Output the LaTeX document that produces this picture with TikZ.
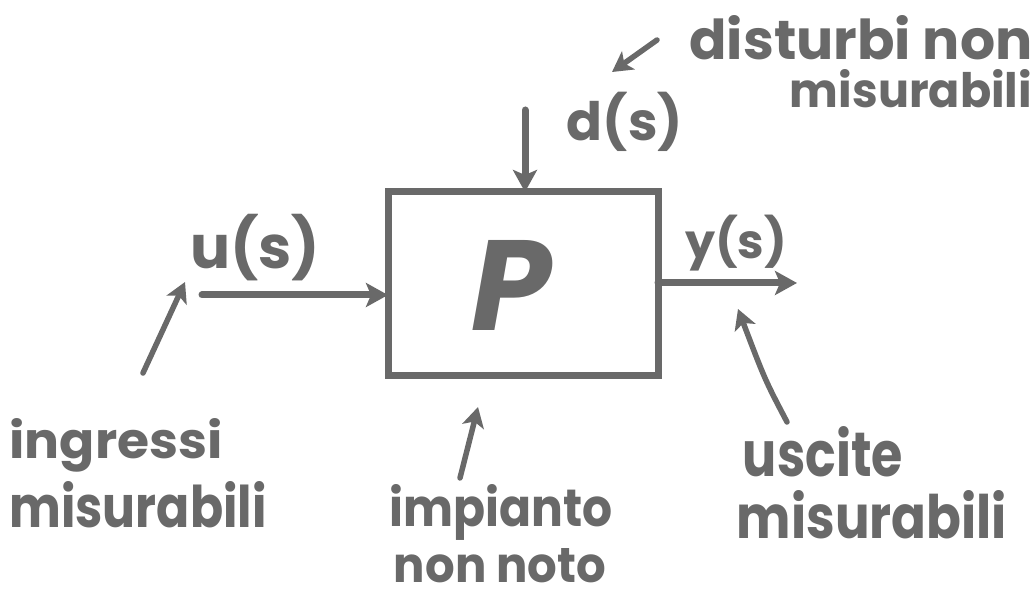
\documentclass[tikz,border=0pt]{standalone}
\usepackage{fontspec}
\setmainfont{Poppins}
\usetikzlibrary{arrows.meta}
\definecolor{ink}{RGB}{105,105,105}
\tikzset{
  stroke/.style={draw=ink, line width=7pt, line cap=round},
  arr/.style={stroke, -{Stealth[length=22pt,width=24pt,inset=5pt]}},
  pointer/.style={draw=ink, line width=5.5pt, line cap=round, -{Stealth[length=20pt,width=22pt,inset=5pt]}},
  hand/.style={text=ink, inner sep=0pt, font=\bfseries},
  line/.style={hand, anchor=base},
}
\newcommand{\fitw}[2]{\resizebox{#1pt}{!}{#2}}
\newcommand{\fith}[2]{\resizebox{!}{#1pt}{#2}}
\newcommand{\fitwh}[3]{\resizebox{#1pt}{#2pt}{\raisebox{0pt}[\height][0pt]{#3}}}
\begin{document}
\begin{tikzpicture}[x=1pt,y=-1pt]
\useasboundingbox (0,0) rectangle (1033,601);
% block
\node[draw=ink, line width=7pt, minimum width=270pt, minimum height=183pt, inner sep=0pt, outer sep=0pt] (P) at (523,283.5) {};
\node[hand] (Plab) at (512,285) {\fith{90}{\itshape P}};
% signals
\coordinate (uin) at (202,295);
\coordinate (yout) at (797,283);
\coordinate (din) at (525,110);
\draw[arr] (uin) -- (uin -| P.west);
\draw[arr] (yout -| P.east) -- (yout);
\draw[arr] (din) -- (din |- P.north);
\node[hand] (ul) at (255,248) {\fitw{130}{u(s)}};
\node[hand] (yl) at (736,243) {\fitw{102}{y(s)}};
\node[hand] (dl) at (625,122) {\fitw{116}{d(s)}};
% annotations
\node[line] (dist1) at (861,60) {\fitwh{343}{44}{disturbi non}};
\node[line] (dist2) at (911,108) {\fitwh{242}{38}{misurabili}};
\node[line] (ing1) at (116,458) {\fitwh{213}{40}{ingressi}};
\node[line] (ing2) at (138,527) {\fitwh{257}{46}{misurabili}};
\node[line] (imp1) at (501,526) {\fitwh{223}{42}{impianto}};
\node[line] (imp2) at (500,582) {\fitwh{212}{34}{non noto}};
\node[line] (usc1) at (823,476) {\fitwh{160}{50}{uscite}};
\node[line] (usc2) at (872,538) {\fitwh{270}{48}{misurabili}};
% pointers
\coordinate (distT) at (657,40);
\coordinate (distH) at (612,72);
\coordinate (ingT) at (143,373);
\coordinate (ingH) at (185,282);
\coordinate (impT) at (460,478);
\coordinate (impH) at (478,407);
\coordinate (uscT) at (787,422);
\coordinate (uscH) at (738,309);
\draw[pointer] (distT) -- (distH);
\draw[pointer] (ingT) -- (ingH);
\draw[pointer] (impT) -- (impH);
\draw[pointer] (uscT) .. controls (765,380) .. (uscH);
\end{tikzpicture}
\end{document}
